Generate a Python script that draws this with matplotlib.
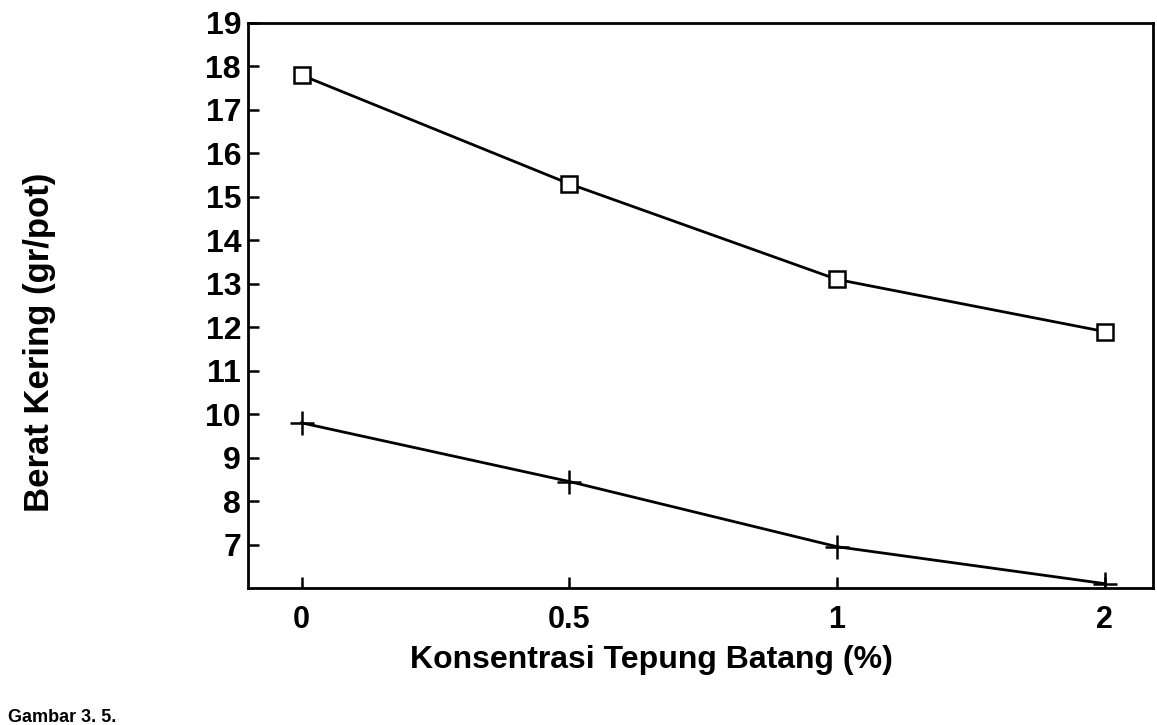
import matplotlib
matplotlib.use("Agg")
import matplotlib.pyplot as plt
import numpy as np

# Data
categories = ["0", "0.5", "1", "2"]
series_square = [17.8, 15.3, 13.1, 11.9]
series_plus = [9.8, 8.45, 6.95, 6.1]
yticks = [7, 8, 9, 10, 11, 12, 13, 14, 15, 16, 17, 18, 19]

plt.rcParams['font.family'] = ['Liberation Sans', 'DejaVu Sans']

fig = plt.figure(figsize=(11.57, 7.25), dpi=100)
ax = fig.add_axes([248/1157, 1-588/725, (1153-248)/1157, (588-23)/725])

x = np.arange(len(categories))
ax.plot(x, series_square, color='black', lw=2.0, marker='s', markersize=11,
        markerfacecolor='white', markeredgecolor='black', markeredgewidth=1.8)
ax.plot(x, series_plus, color='black', lw=2.0, marker='+', markersize=17,
        markeredgewidth=1.8)

ax.set_xlim(-0.2, 3.18)
ax.set_ylim(6, 19)
ax.set_xticks(x)
ax.set_xticklabels(categories)
ax.set_yticks(yticks)
ax.set_yticklabels([str(t) for t in yticks])

for sp in ax.spines.values():
    sp.set_linewidth(2.0)
    sp.set_color('black')

ax.tick_params(axis='y', direction='in', length=8, width=1.8, pad=5,
               labelsize=23)
ax.tick_params(axis='x', direction='in', length=8, width=1.8, pad=12,
               labelsize=22)
for lab in ax.get_yticklabels() + ax.get_xticklabels():
    lab.set_fontweight('bold')

fig.text(651/1157, 1-660/725, "Konsentrasi Tepung Batang (%)", ha='center',
         va='center', fontsize=23, fontweight='bold')
fig.text(40/1157, 1-342/725, "Berat Kering (gr/pot)", rotation=90,
         ha='center', va='center', fontsize=25, fontweight='bold')
fig.text(8/1157, 3/725, "Gambar 3. 5.", ha='left', va='baseline',
         fontsize=13, fontweight='bold')

fig.savefig("out.png", dpi=100)
